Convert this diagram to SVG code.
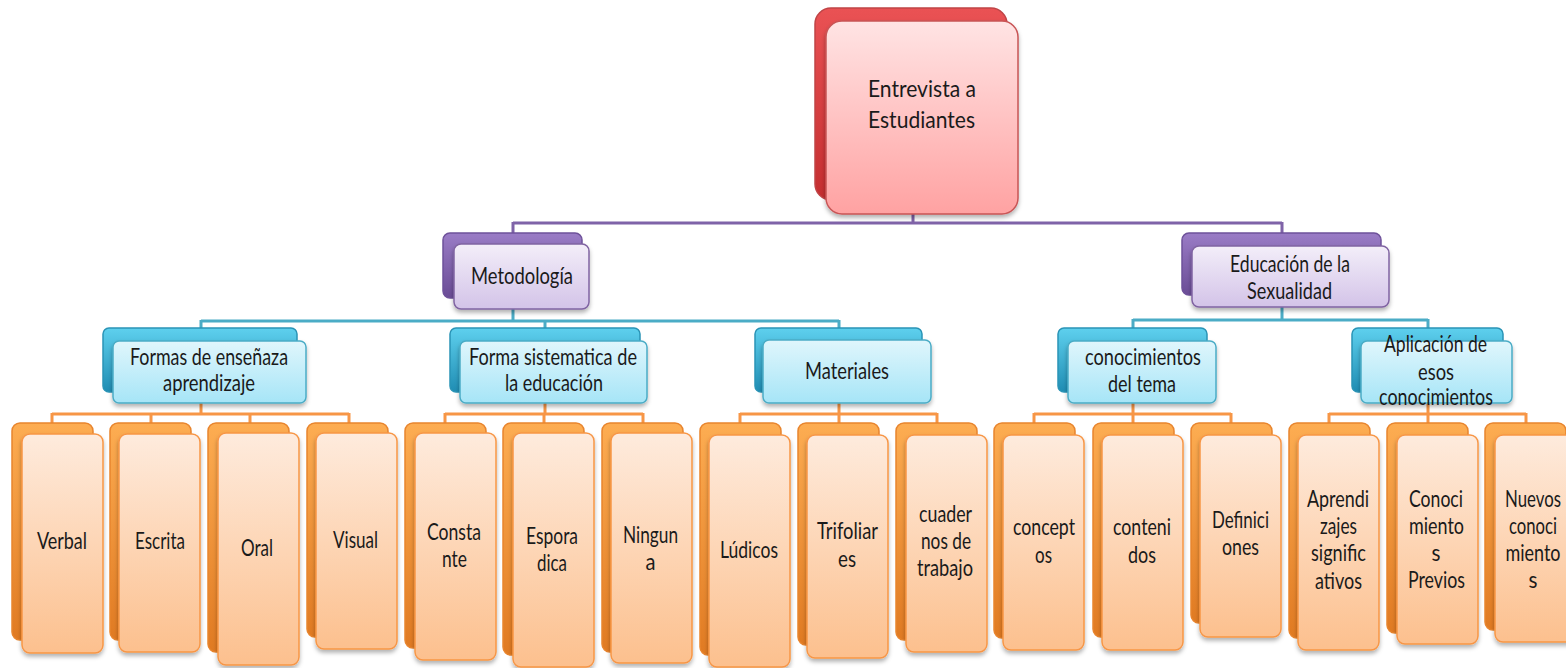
<svg xmlns="http://www.w3.org/2000/svg" width="1566" height="668" viewBox="0 0 1566 668">
<defs>
<linearGradient id="gRedB" x1="0" y1="0" x2="0" y2="1"><stop offset="0" stop-color="#EA5254"/><stop offset="1" stop-color="#C42E30"/></linearGradient>
<linearGradient id="gRedF" x1="0" y1="0" x2="0" y2="1"><stop offset="0" stop-color="#FFE4E4"/><stop offset="1" stop-color="#FFA2A2"/></linearGradient>
<linearGradient id="gPurB" x1="0" y1="0" x2="0" y2="1"><stop offset="0" stop-color="#9A7CC6"/><stop offset="1" stop-color="#6A4C96"/></linearGradient>
<linearGradient id="gPurF" x1="0" y1="0" x2="0" y2="1"><stop offset="0" stop-color="#F3EEF9"/><stop offset="1" stop-color="#D3C3E8"/></linearGradient>
<linearGradient id="gTealB" x1="0" y1="0" x2="0" y2="1"><stop offset="0" stop-color="#5ED0EE"/><stop offset="1" stop-color="#1F8DB3"/></linearGradient>
<linearGradient id="gTealF" x1="0" y1="0" x2="0" y2="1"><stop offset="0" stop-color="#E0F6FC"/><stop offset="1" stop-color="#A6E5F7"/></linearGradient>
<linearGradient id="gOrB" x1="0" y1="0" x2="0" y2="1"><stop offset="0" stop-color="#FDAD52"/><stop offset="1" stop-color="#E07A22"/></linearGradient>
<linearGradient id="gOrF" x1="0" y1="0" x2="0" y2="1"><stop offset="0" stop-color="#FEEBDD"/><stop offset="1" stop-color="#FCC08E"/></linearGradient>
<filter id="sh" x="-10%" y="-10%" width="130%" height="130%"><feDropShadow dx="0" dy="3" stdDeviation="2" flood-color="#000" flood-opacity="0.3"/></filter>
</defs>
<style>
.t{font-family:Lato,"Open Sans","Liberation Sans",sans-serif;font-size:23px;fill:#1a1a1a;text-anchor:middle}
.rb{fill:url(#gRedB);stroke:#C04446;stroke-width:1.5}
.rf{fill:url(#gRedF);stroke:#C85556;stroke-width:1.5;filter:url(#sh)}
.pb{fill:url(#gPurB);stroke:#6E519A;stroke-width:1.5}
.pf{fill:url(#gPurF);stroke:#8064A2;stroke-width:1.5;filter:url(#sh)}
.cb{fill:url(#gTealB);stroke:#2A94B6;stroke-width:1.5}
.cf{fill:url(#gTealF);stroke:#4BACC6;stroke-width:1.5;filter:url(#sh)}
.ob{fill:url(#gOrB);stroke:#E8852E;stroke-width:1.5}
.of{fill:url(#gOrF);stroke:#F79646;stroke-width:1.5;filter:url(#sh)}
.cp{fill:none;stroke:#7F63A8;stroke-width:3}
.ct{fill:none;stroke:#4BACC6;stroke-width:3}
.co{fill:none;stroke:#F79646;stroke-width:3}
</style>
<rect width="1566" height="668" fill="#fff"/>
<g id="connectors">
<path class="cp" d="M913 213V223M513 223H1282M513 222V234M1282 222V234"/>
<path class="ct" d="M513 309V321M201 321H839M201 320V329M545 320V329M839 320V329"/>
<path class="ct" d="M1282 307V320M1133 320H1428M1133 319V329M1428 319V329"/>
<path class="co" d="M201 403V414M52 414H349M52 413V424M151 413V424M250 413V424M349 413V424"/>
<path class="co" d="M545 403V414M445 414H643M445 413V424M544 413V424M643 413V424"/>
<path class="co" d="M839 403V414M740 414H937M740 413V424M839 413V424M937 413V424"/>
<path class="co" d="M1133 403V414M1034 414H1231M1034 413V424M1133 413V424M1231 413V424"/>
<path class="co" d="M1428 403V414M1329 414H1526M1329 413V424M1428 413V424M1526 413V424"/>
</g>
<g id="n-root">
<rect class="rb" x="815" y="8" width="192" height="192" rx="16"/>
<rect class="rf" x="826" y="21" width="192" height="193" rx="16"/>
<text class="t" x="922" y="97" textLength="108" lengthAdjust="spacingAndGlyphs">Entrevista a</text>
<text class="t" x="921.5" y="128" textLength="107" lengthAdjust="spacingAndGlyphs">Estudiantes</text>
</g>
<g id="n-metodologia">
<rect class="pb" x="443" y="233" width="139" height="65" rx="7"/>
<rect class="pf" x="454" y="244" width="135" height="65" rx="7"/>
<text class="t" x="522" y="284" textLength="102" lengthAdjust="spacingAndGlyphs">Metodología</text>
</g>
<g id="n-educacion">
<rect class="pb" x="1182" y="233" width="199" height="62" rx="7"/>
<rect class="pf" x="1192" y="246" width="197" height="61" rx="7"/>
<text class="t" x="1290" y="272" textLength="120" lengthAdjust="spacingAndGlyphs">Educación de la</text>
<text class="t" x="1289.5" y="299" textLength="85" lengthAdjust="spacingAndGlyphs">Sexualidad</text>
</g>
<g id="n-formas">
<rect class="cb" x="103" y="328" width="194" height="64" rx="6"/>
<rect class="cf" x="113" y="341" width="193" height="62" rx="6"/>
<text class="t" x="209" y="365" textLength="158" lengthAdjust="spacingAndGlyphs">Formas de enseñaza</text>
<text class="t" x="209" y="391" textLength="92" lengthAdjust="spacingAndGlyphs">aprendizaje</text>
</g>
<g id="n-forma-sistematica">
<rect class="cb" x="450" y="328" width="190" height="64" rx="6"/>
<rect class="cf" x="460" y="341" width="187" height="62" rx="6"/>
<text class="t" x="553" y="365" textLength="168" lengthAdjust="spacingAndGlyphs">Forma sistematica de</text>
<text class="t" x="554" y="391" textLength="98" lengthAdjust="spacingAndGlyphs">la educación</text>
</g>
<g id="n-materiales">
<rect class="cb" x="755" y="328" width="167" height="64" rx="6"/>
<rect class="cf" x="763" y="340" width="168" height="63" rx="6"/>
<text class="t" x="847" y="379" textLength="84" lengthAdjust="spacingAndGlyphs">Materiales</text>
</g>
<g id="n-conocimientos-tema">
<rect class="cb" x="1058" y="328" width="149" height="64" rx="6"/>
<rect class="cf" x="1068" y="341" width="148" height="62" rx="6"/>
<text class="t" x="1143" y="365" textLength="116" lengthAdjust="spacingAndGlyphs">conocimientos</text>
<text class="t" x="1142" y="392" textLength="68" lengthAdjust="spacingAndGlyphs">del tema</text>
</g>
<g id="n-aplicacion">
<rect class="cb" x="1352" y="328" width="151" height="64" rx="6"/>
<rect class="cf" x="1361" y="341" width="151" height="62" rx="6"/>
<text class="t" x="1435.5" y="352" textLength="103" lengthAdjust="spacingAndGlyphs">Aplicación de</text>
<text class="t" x="1436" y="380" textLength="36" lengthAdjust="spacingAndGlyphs">esos</text>
<text class="t" x="1436" y="405" textLength="114" lengthAdjust="spacingAndGlyphs">conocimientos</text>
</g>
<g id="n-verbal">
<rect class="ob" x="12" y="423" width="81" height="217" rx="8"/>
<rect class="of" x="22" y="434" width="81" height="219" rx="8"/>
<text class="t" x="62" y="549" textLength="50" lengthAdjust="spacingAndGlyphs">Verbal</text>
</g>
<g id="n-escrita">
<rect class="ob" x="110" y="423" width="81" height="217" rx="8"/>
<rect class="of" x="119" y="434" width="81" height="218" rx="8"/>
<text class="t" x="160" y="549" textLength="50" lengthAdjust="spacingAndGlyphs">Escrita</text>
</g>
<g id="n-oral">
<rect class="ob" x="208" y="423" width="81" height="229" rx="8"/>
<rect class="of" x="218" y="433" width="81" height="232" rx="8"/>
<text class="t" x="257" y="556" textLength="32" lengthAdjust="spacingAndGlyphs">Oral</text>
</g>
<g id="n-visual">
<rect class="ob" x="307" y="423" width="81" height="214" rx="8"/>
<rect class="of" x="316" y="433" width="81" height="216" rx="8"/>
<text class="t" x="355.5" y="548" textLength="45" lengthAdjust="spacingAndGlyphs">Visual</text>
</g>
<g id="n-constante">
<rect class="ob" x="405" y="423" width="81" height="225" rx="8"/>
<rect class="of" x="415" y="433" width="81" height="227" rx="8"/>
<text class="t" x="454" y="540" textLength="54" lengthAdjust="spacingAndGlyphs">Consta</text>
<text class="t" x="454.5" y="567" textLength="25" lengthAdjust="spacingAndGlyphs">nte</text>
</g>
<g id="n-esporadica">
<rect class="ob" x="503" y="423" width="81" height="232" rx="8"/>
<rect class="of" x="513" y="433" width="81" height="234" rx="8"/>
<text class="t" x="552" y="544" textLength="52" lengthAdjust="spacingAndGlyphs">Espora</text>
<text class="t" x="552" y="571" textLength="30" lengthAdjust="spacingAndGlyphs">dica</text>
</g>
<g id="n-ninguna">
<rect class="ob" x="602" y="423" width="81" height="229" rx="8"/>
<rect class="of" x="611" y="433" width="81" height="230" rx="8"/>
<text class="t" x="650.5" y="543" textLength="55" lengthAdjust="spacingAndGlyphs">Ningun</text>
<text class="t" x="650.5" y="570" textLength="10" lengthAdjust="spacingAndGlyphs">a</text>
</g>
<g id="n-ludicos">
<rect class="ob" x="700" y="423" width="81" height="232" rx="8"/>
<rect class="of" x="709" y="435" width="81" height="232" rx="8"/>
<text class="t" x="749" y="558" textLength="58" lengthAdjust="spacingAndGlyphs">Lúdicos</text>
</g>
<g id="n-trifoliares">
<rect class="ob" x="798" y="423" width="81" height="222" rx="8"/>
<rect class="of" x="807" y="435" width="81" height="223" rx="8"/>
<text class="t" x="847.5" y="539" textLength="61" lengthAdjust="spacingAndGlyphs">Trifoliar</text>
<text class="t" x="847" y="567" textLength="18" lengthAdjust="spacingAndGlyphs">es</text>
</g>
<g id="n-cuadernos">
<rect class="ob" x="896" y="423" width="81" height="217" rx="8"/>
<rect class="of" x="906" y="435" width="81" height="217" rx="8"/>
<text class="t" x="945.5" y="522" textLength="53" lengthAdjust="spacingAndGlyphs">cuader</text>
<text class="t" x="946" y="549" textLength="50" lengthAdjust="spacingAndGlyphs">nos de</text>
<text class="t" x="945" y="576" textLength="56" lengthAdjust="spacingAndGlyphs">trabajo</text>
</g>
<g id="n-concepts">
<rect class="ob" x="994" y="423" width="81" height="215" rx="8"/>
<rect class="of" x="1003" y="435" width="81" height="215" rx="8"/>
<text class="t" x="1044" y="535" textLength="62" lengthAdjust="spacingAndGlyphs">concept</text>
<text class="t" x="1043.5" y="563" textLength="17" lengthAdjust="spacingAndGlyphs">os</text>
</g>
<g id="n-contenidos">
<rect class="ob" x="1093" y="423" width="81" height="214" rx="8"/>
<rect class="of" x="1102" y="435" width="81" height="215" rx="8"/>
<text class="t" x="1142" y="535" textLength="58" lengthAdjust="spacingAndGlyphs">conteni</text>
<text class="t" x="1142" y="563" textLength="28" lengthAdjust="spacingAndGlyphs">dos</text>
</g>
<g id="n-definiciones">
<rect class="ob" x="1191" y="423" width="81" height="200" rx="8"/>
<rect class="of" x="1200" y="435" width="81" height="202" rx="8"/>
<text class="t" x="1240.5" y="528" textLength="57" lengthAdjust="spacingAndGlyphs">Definici</text>
<text class="t" x="1240.5" y="555" textLength="37" lengthAdjust="spacingAndGlyphs">ones</text>
</g>
<g id="n-aprendizajes">
<rect class="ob" x="1289" y="423" width="81" height="215" rx="8"/>
<rect class="of" x="1298" y="435" width="81" height="215" rx="8"/>
<text class="t" x="1338" y="507" textLength="62" lengthAdjust="spacingAndGlyphs">Aprendi</text>
<text class="t" x="1338.5" y="534" textLength="37" lengthAdjust="spacingAndGlyphs">zajes</text>
<text class="t" x="1338.5" y="561" textLength="55" lengthAdjust="spacingAndGlyphs">signific</text>
<text class="t" x="1338.5" y="589" textLength="47" lengthAdjust="spacingAndGlyphs">ativos</text>
</g>
<g id="n-conocimientos-previos">
<rect class="ob" x="1387" y="423" width="81" height="210" rx="8"/>
<rect class="of" x="1397" y="435" width="81" height="209" rx="8"/>
<text class="t" x="1436" y="507" textLength="54" lengthAdjust="spacingAndGlyphs">Conoci</text>
<text class="t" x="1436.5" y="534" textLength="55" lengthAdjust="spacingAndGlyphs">miento</text>
<text class="t" x="1436" y="561" textLength="9" lengthAdjust="spacingAndGlyphs">s</text>
<text class="t" x="1436.5" y="588" textLength="57" lengthAdjust="spacingAndGlyphs">Previos</text>
</g>
<g id="n-nuevos">
<rect class="ob" x="1485" y="423" width="81" height="207" rx="8"/>
<rect class="of" x="1495" y="435" width="81" height="207" rx="8"/>
<text class="t" x="1533" y="507" textLength="56" lengthAdjust="spacingAndGlyphs">Nuevos</text>
<text class="t" x="1533" y="534" textLength="48" lengthAdjust="spacingAndGlyphs">conoci</text>
<text class="t" x="1533" y="561" textLength="55" lengthAdjust="spacingAndGlyphs">miento</text>
<text class="t" x="1533" y="588" textLength="9" lengthAdjust="spacingAndGlyphs">s</text>
</g>
</svg>
